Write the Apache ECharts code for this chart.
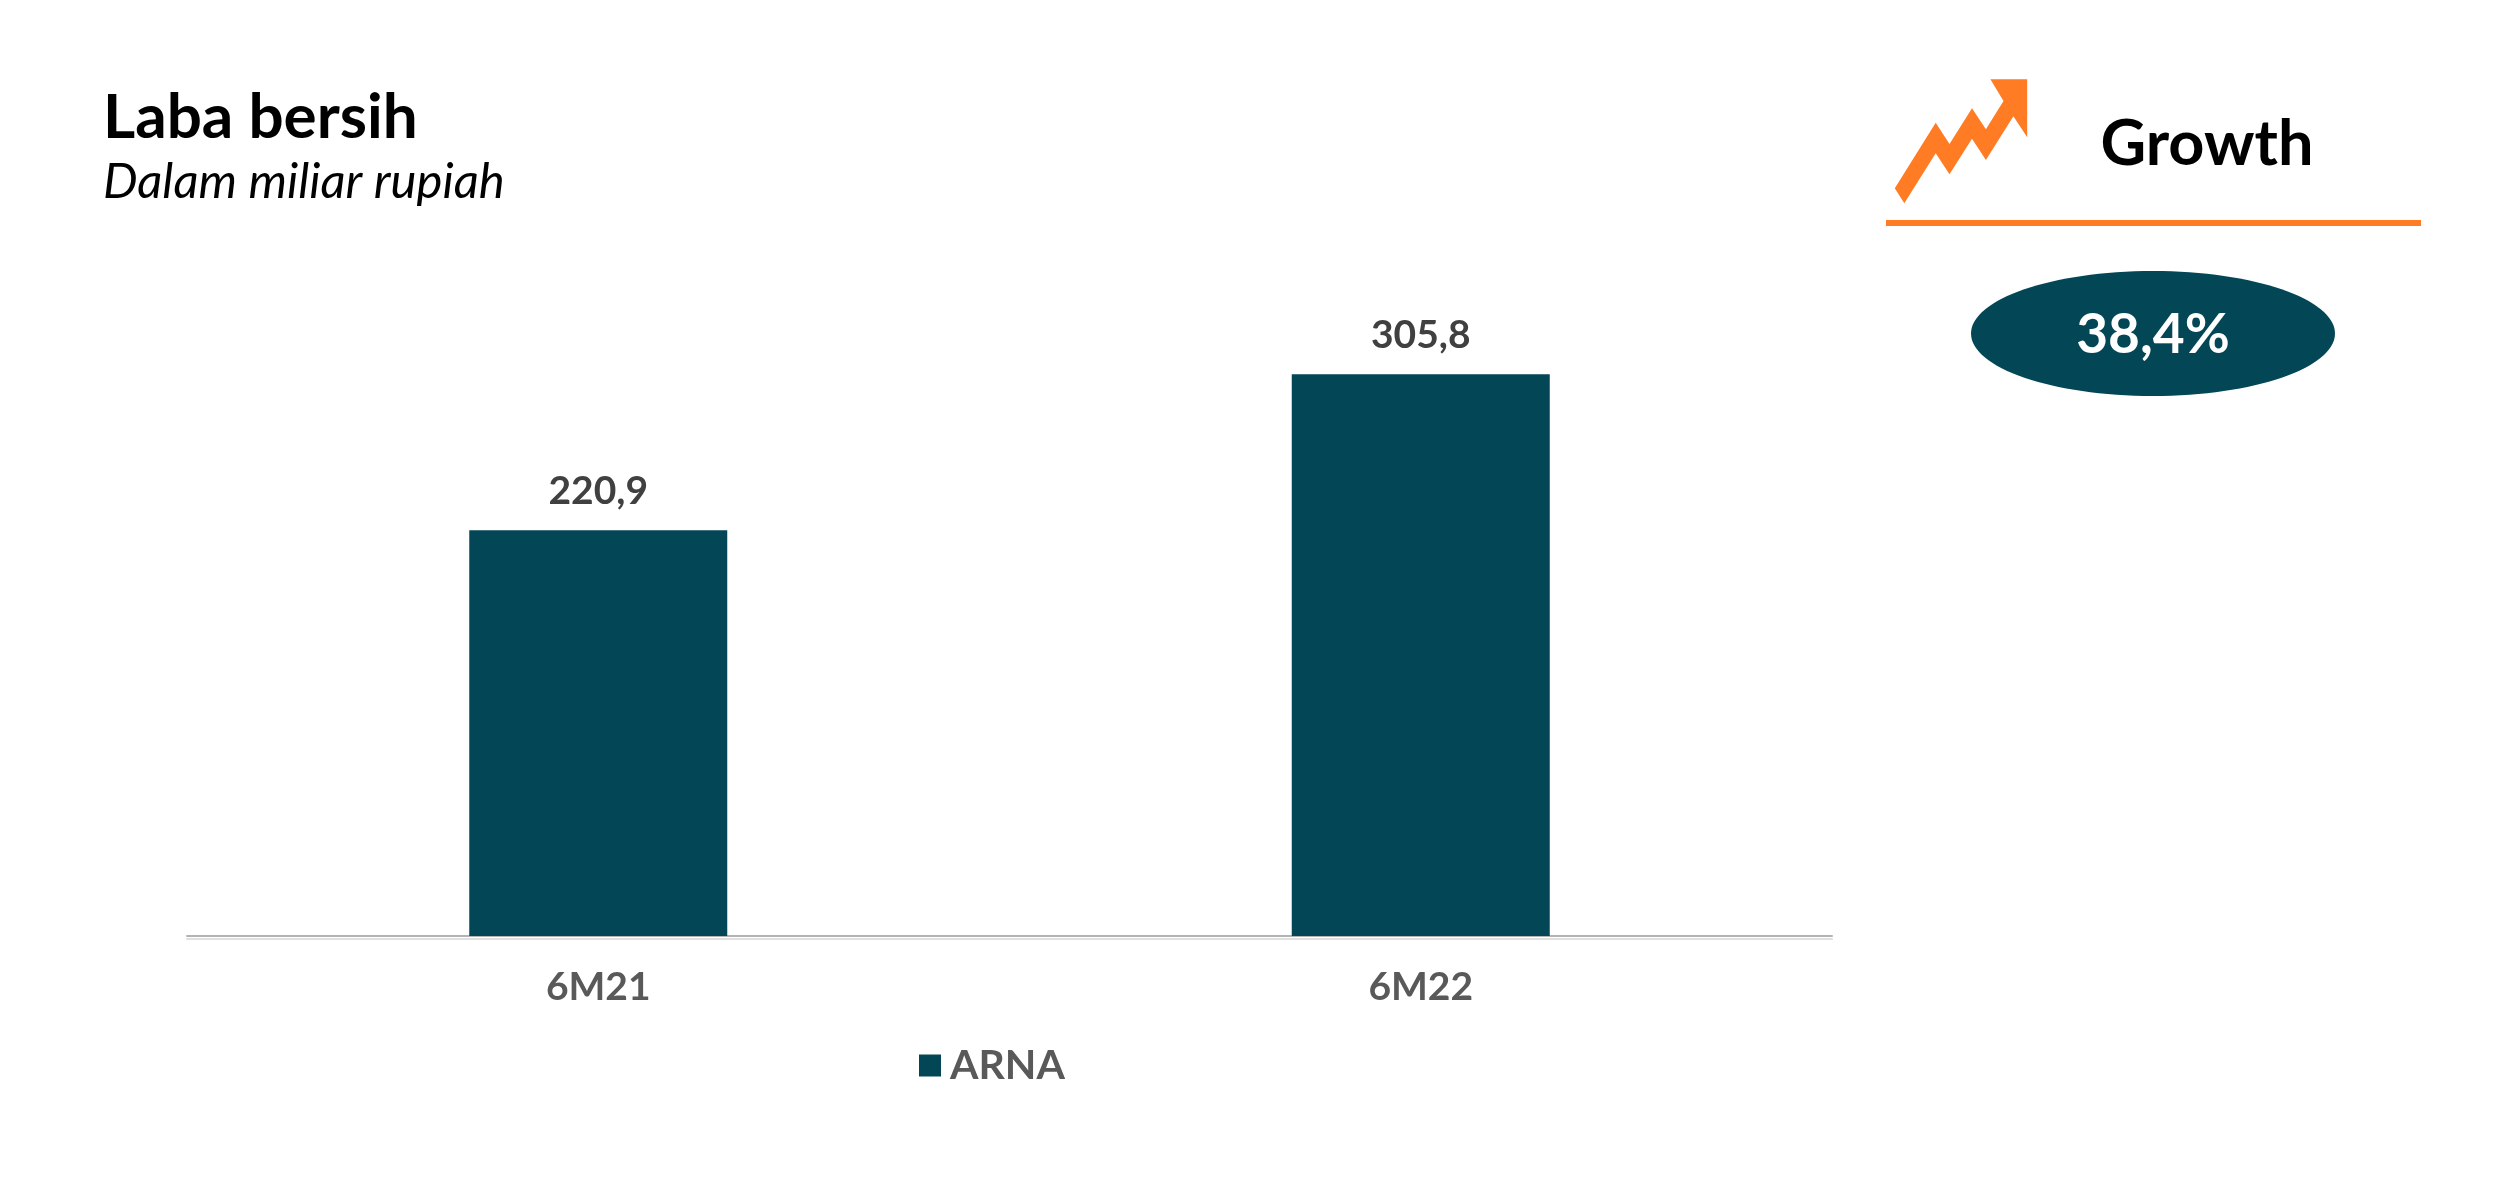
<!DOCTYPE html>
<html>
<head>
<meta charset="utf-8">
<style>html,body{margin:0;padding:0;background:#fff}#c{width:2500px;height:1177px}</style>
<script src="https://cdn.jsdelivr.net/npm/echarts@6/dist/echarts.min.js"></script>
</head>
<body>
<div id="c"></div>
<script>
const categories = ['6M21', '6M22'];
const seriesName = 'ARNA';
const values = [220.9, 305.8];
const titleText = 'Laba bersih';
const subtitleText = 'Dalam miliar rupiah';
const growthTitle = 'Growth';
const growthValue = '38,4%';

const teal = '#034757';
const orange = '#FF7C24';
const font = 'Lato';

const chart = echarts.init(document.getElementById('c'), null, {renderer: 'canvas'});
chart.setOption({
  animation: false,
  backgroundColor: '#fff',
  grid: {left: 187, right: 668, top: 293, bottom: 241},
  title: [
    {text: titleText, left: 103, top: 87, padding: 0,
      textStyle: {fontFamily: font, fontWeight: 'bold', fontSize: 62, color: '#000'}},
    {text: subtitleText, left: 103, top: 158, padding: 0,
      textStyle: {fontFamily: font, fontStyle: 'italic', fontWeight: 'normal', fontSize: 49, color: '#000'}}
  ],
  legend: {
    data: [seriesName], left: 919, top: 1045, padding: 0,
    icon: 'rect', itemWidth: 22, itemHeight: 22, itemGap: 10,
    textStyle: {fontFamily: font, fontWeight: 'bold', fontSize: 41, color: '#595959', padding: [0, 0, 0, 4]}
  },
  xAxis: {
    type: 'category', data: categories,
    axisTick: {show: false},
    axisLine: {lineStyle: {color: '#b4b4b4', width: 2, shadowColor: '#e0e0e0', shadowBlur: 0, shadowOffsetY: 3}},
    axisLabel: {fontFamily: font, fontWeight: 'bold', fontSize: 39, color: '#595959', margin: 32}
  },
  yAxis: {type: 'value', min: 0, max: 350, show: false},
  series: [{
    name: seriesName, type: 'bar', data: values, barWidth: 258, z: 5,
    itemStyle: {color: teal},
    label: {
      show: true, position: 'top', distance: 19,
      fontFamily: font, fontWeight: 'bold', fontSize: 39, color: '#404040',
      formatter: p => p.value.toFixed(1).replace('.', ',')
    }
  }],
  graphic: [
    {type: 'polygon', shape: {points: [
      [1894.8,188.3],[1935.7,122.7],[1949.5,144],[1972,108.3],[1985.9,129.3],[2003.5,101],
      [1990.4,79.3],[2027.2,79.3],[2027.2,137.3],[2013.4,116.3],[1985.9,160],[1972,138.7],
      [1949.5,174.3],[1935.7,153.3],[1904.3,203.3]]}, style: {fill: orange}},
    {type: 'text', x: 2207, y: 145, style: {text: growthTitle, fontFamily: font, fontWeight: 'bold', fontSize: 63,
      fill: '#000', align: 'center', verticalAlign: 'middle'}},
    {type: 'rect', shape: {x: 1886, y: 220, width: 535, height: 6}, style: {fill: orange}},
    {type: 'ellipse', shape: {cx: 2153, cy: 333.5, rx: 182, ry: 62.5}, style: {fill: teal}},
    {type: 'text', x: 2153, y: 335, style: {text: growthValue, fontFamily: font, fontWeight: 'bold', fontSize: 55,
      fill: '#fff', align: 'center', verticalAlign: 'middle'}}
  ]
});
</script>
</body>
</html>
